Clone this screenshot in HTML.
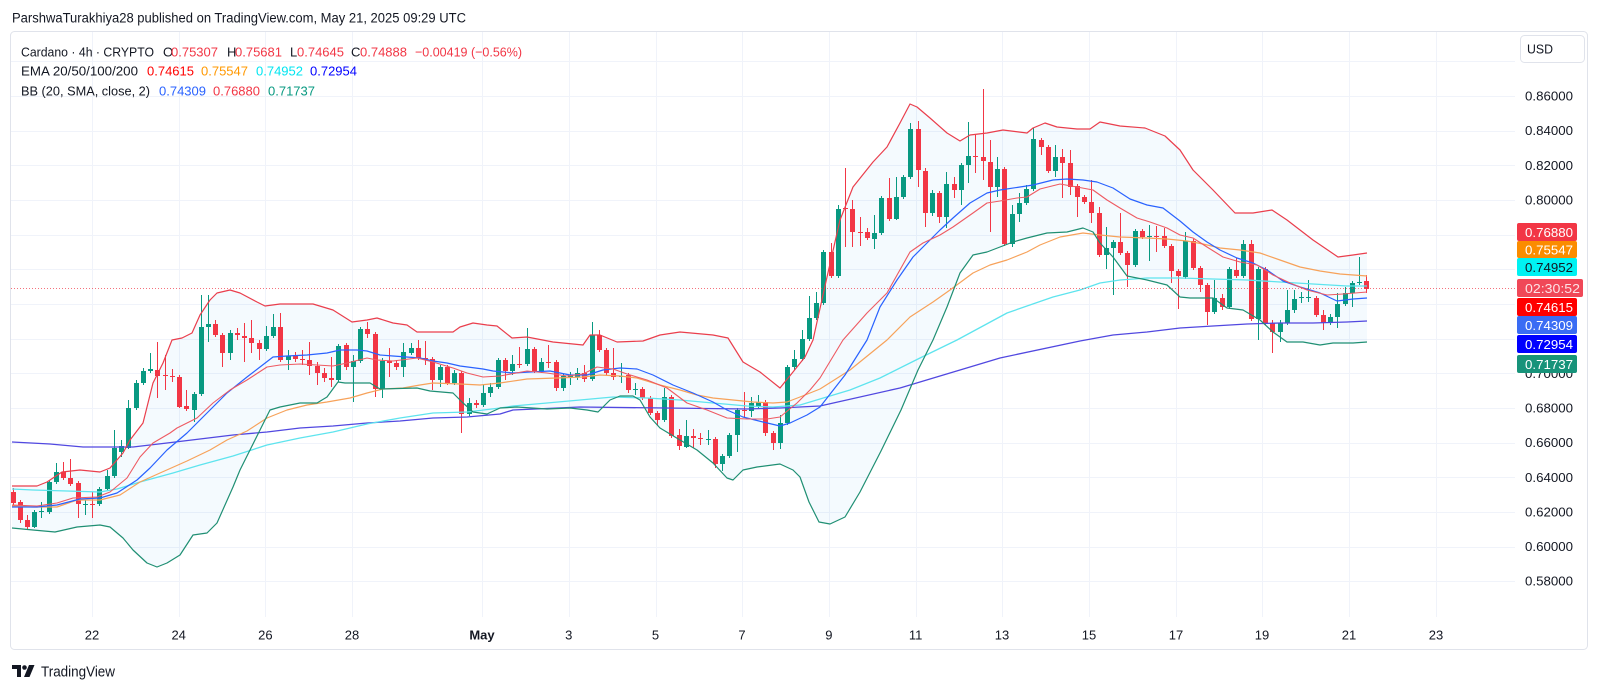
<!DOCTYPE html>
<html><head><meta charset="utf-8"><style>
html,body{margin:0;padding:0;background:#fff;}
svg{display:block;}
text{font-family:"Liberation Sans",Arial,sans-serif;}
</style></head><body>
<svg id="s" width="1600" height="685" viewBox="0 0 1600 685" xmlns="http://www.w3.org/2000/svg">
<rect width="1600" height="685" fill="#fff"/>
<defs><clipPath id="cp"><rect x="11" y="32" width="1504" height="585"/></clipPath></defs>
<g id="grid" stroke="#f0f3fa" stroke-width="1" shape-rendering="crispEdges"></g>
<g id="plot" clip-path="url(#cp)"></g>
<rect x="10.5" y="31.5" width="1577" height="618" rx="4" fill="none" stroke="#e0e3eb"/>
<text x="12" y="18" font-size="13.5" fill="#131722" dominant-baseline="central" textLength="454" lengthAdjust="spacingAndGlyphs">ParshwaTurakhiya28 published on TradingView.com, May 21, 2025 09:29 UTC</text>
<g font-size="13" dominant-baseline="central">
<text x="21" y="52" fill="#131722" textLength="133" lengthAdjust="spacingAndGlyphs">Cardano · 4h · CRYPTO</text>
<text x="163" y="52" fill="#131722">O</text><text x="171" y="52" fill="#f23645" textLength="47" lengthAdjust="spacingAndGlyphs">0.75307</text>
<text x="227" y="52" fill="#131722">H</text><text x="235" y="52" fill="#f23645" textLength="47" lengthAdjust="spacingAndGlyphs">0.75681</text>
<text x="290" y="52" fill="#131722">L</text><text x="297" y="52" fill="#f23645" textLength="47" lengthAdjust="spacingAndGlyphs">0.74645</text>
<text x="351" y="52" fill="#131722">C</text><text x="360" y="52" fill="#f23645" textLength="47" lengthAdjust="spacingAndGlyphs">0.74888</text>
<text x="415" y="52" fill="#f23645" textLength="107" lengthAdjust="spacingAndGlyphs">−0.00419 (−0.56%)</text>
<text x="21" y="71" fill="#131722" textLength="117" lengthAdjust="spacingAndGlyphs">EMA 20/50/100/200</text>
<text x="147" y="71" fill="#ff0000" textLength="47" lengthAdjust="spacingAndGlyphs">0.74615</text>
<text x="201" y="71" fill="#ff9800" textLength="47" lengthAdjust="spacingAndGlyphs">0.75547</text>
<text x="256" y="71" fill="#00e5f0" textLength="47" lengthAdjust="spacingAndGlyphs">0.74952</text>
<text x="310" y="71" fill="#0000ff" textLength="47" lengthAdjust="spacingAndGlyphs">0.72954</text>
<text x="21" y="91" fill="#131722" textLength="129" lengthAdjust="spacingAndGlyphs">BB (20, SMA, close, 2)</text>
<text x="159" y="91" fill="#2962ff" textLength="47" lengthAdjust="spacingAndGlyphs">0.74309</text>
<text x="213" y="91" fill="#f23645" textLength="47" lengthAdjust="spacingAndGlyphs">0.76880</text>
<text x="268" y="91" fill="#089981" textLength="47" lengthAdjust="spacingAndGlyphs">0.71737</text>
</g>
<rect x="1520.5" y="35.5" width="64" height="27" rx="4" fill="#fff" stroke="#e0e3eb"/>
<text x="1527" y="49" font-size="13" fill="#131722" dominant-baseline="central" textLength="26" lengthAdjust="spacingAndGlyphs">USD</text>
<g id="paxis" font-size="13" fill="#131722" dominant-baseline="central"></g>
<g id="plabels" font-size="13" dominant-baseline="central"></g>
<g id="taxis" font-size="13" fill="#131722" dominant-baseline="central" text-anchor="middle"></g>
<g fill="#131722">
<path d="M12 665 h9 v12 h-4 v-8 h-5 z"/>
<circle cx="24.5" cy="667.5" r="2.3"/>
<path d="M29 665 h5.5 l-5 12 h-5.5 z"/>
</g>
<text x="41" y="672" font-size="15" fill="#131722" dominant-baseline="central" textLength="74" lengthAdjust="spacingAndGlyphs">TradingView</text>
</svg>
<script>
(function(){
const NS='http://www.w3.org/2000/svg';
function el(t,a,p){const e=document.createElementNS(NS,t);for(const k in a)e.setAttribute(k,a[k]);p.appendChild(e);return e;}
const grid=document.getElementById('grid'),plot=document.getElementById('plot');
for(let k=0;k<16;k++){const y=Math.round(61.3+k*34.66)+0.5;el('line',{x1:11,x2:1515,y1:y,y2:y},grid);}
const dx=[[92,'22'],[178.7,'24'],[265.4,'26'],[352,'28'],[482,'May'],[568.8,'3'],[655.5,'5'],[742,'7'],[828.9,'9'],[915.6,'11'],[1002,'13'],[1089,'15'],[1176,'17'],[1262,'19'],[1349,'21'],[1436,'23']];
const ta=document.getElementById('taxis');
dx.forEach(d=>{const x=Math.round(d[0])+0.5;el('line',{x1:x,x2:x,y1:32,y2:617},grid);const t=el('text',{x:d[0],y:635},ta);if(d[1]==='May')t.setAttribute('font-weight','bold');t.textContent=d[1];});
const pa=document.getElementById('paxis');
const prices=['0.86000','0.84000','0.82000','0.80000','','','','','0.70000','0.68000','0.66000','0.64000','0.62000','0.60000','0.58000'];
prices.forEach((p,k)=>{if(!p)return;const t=el('text',{x:1525,y:96+k*34.66,textLength:48,lengthAdjust:'spacingAndGlyphs'},pa);t.textContent=p;});
const pl=document.getElementById('plabels');
const labs=[[223,18,'#f23645','#fff','0.76880',60],[241,17,'#fb8c00','#fff','0.75547',60],[258,18,'#00f2f2','#131722','0.74952',60],[279,18,'#f04858','#fde2e5','02:30:52',66],[298,18,'#ff0000','#fff','0.74615',60],[316,18,'#3a6cf4','#fff','0.74309',60],[335,18,'#0000ff','#fff','0.72954',60],[355,18,'#17937a','#fff','0.71737',60]];
labs.forEach(l=>{el('rect',{x:1517,y:l[0],width:l[5],height:l[1],rx:2,fill:l[2]},pl);const t=el('text',{x:1525,y:l[0]+l[1]/2+0.5,fill:l[3],textLength:l[5]===66?55:48,lengthAdjust:'spacingAndGlyphs'},pl);t.textContent=l[4];});
const U=[[12,486],[37,486],[47,482],[62,472],[80,470],[100,472],[110,468],[123,453],[130,440],[143,423],[153,383],[163,363],[172,340],[182,338],[192,333],[200,315],[210,300],[217,293],[230,290],[240,293],[257,302],[265,306],[280,304],[313,304],[333,310],[352,322],[367,320],[377,318],[393,323],[407,325],[417,332],[453,332],[460,327],[473,323],[487,325],[497,326],[512,338],[527,337],[553,342],[583,345],[590,335],[600,335],[617,342],[643,341],[660,335],[680,332],[713,335],[728,338],[743,362],[760,372],[780,388],[793,372],[805,357],[813,340],[827,277],[840,220],[853,187],[873,162],[887,147],[900,123],[910,104],[917,107],[930,118],[947,133],[960,141],[970,135],[987,133],[1003,130],[1027,133],[1033,128],[1045,123],[1057,127],[1077,129],[1090,129],[1100,122],[1120,126],[1145,128],[1165,136],[1180,150],[1193,170],[1213,190],[1235,213],[1253,213],[1272,210],[1287,220],[1313,240],[1338,257],[1353,255],[1367,253]];
const L=[[12,528],[33,530],[55,532],[77,527],[100,525],[110,527],[123,538],[133,550],[147,563],[157,567],[167,563],[180,555],[193,535],[207,533],[217,523],[233,487],[240,470],[250,450],[260,430],[270,410],[280,407],[300,403],[317,403],[327,397],[338,382],[345,383],[370,383],[380,389],[417,388],[430,391],[453,393],[462,402],[473,412],[487,414],[500,408],[517,407],[547,409],[570,408],[587,410],[598,412],[610,400],[620,396],[633,396],[640,400],[650,417],[660,428],[680,440],[697,450],[713,463],[727,478],[733,480],[743,470],[757,467],[780,464],[793,470],[800,477],[809,502],[819,522],[830,524],[845,517],[860,492],[881,451],[901,410],[918,370],[933,340],[947,307],[960,273],[973,255],[987,252],[1000,247],[1013,242],[1027,238],[1047,233],[1067,232],[1083,228],[1093,232],[1100,243],[1113,257],[1127,276],[1147,280],[1167,285],[1180,297],[1190,298],[1213,298],[1227,308],[1243,310],[1260,320],[1273,332],[1287,342],[1303,342],[1320,345],[1333,343],[1353,343],[1367,342]];
const B=[[12,507],[37,507],[57,505],[80,499],[100,498],[117,493],[137,480],[150,468],[167,450],[187,433],[203,417],[227,393],[247,377],[260,367],[273,357],[287,356],[307,355],[327,353],[340,350],[357,350],[367,351],[380,355],[393,356],[420,358],[433,361],[447,363],[460,366],[483,369],[493,371],[513,373],[530,372],[550,371],[570,375],[587,375],[603,370],[620,368],[637,369],[653,375],[673,385],[693,393],[713,402],[727,410],[743,417],[763,422],[780,426],[790,423],[807,415],[820,407],[845,375],[867,340],[880,307],[897,280],[913,257],[927,243],[940,230],[953,218],[970,203],[987,193],[1000,190],[1020,187],[1033,185],[1053,180],[1067,179],[1083,180],[1097,182],[1113,188],[1130,199],[1147,205],[1163,208],[1180,221],[1193,232],[1207,242],[1220,250],[1237,258],[1253,263],[1267,270],[1283,281],[1300,287],[1320,293],[1337,301],[1353,299],[1367,298]];
const E20=[[12,505],[37,506],[57,503],[73,498],[97,497],[110,492],[127,478],[140,457],[153,443],[170,433],[177,428],[197,418],[213,403],[230,390],[247,380],[267,367],[280,365],[300,364],[317,365],[333,366],[347,363],[367,358],[377,360],[393,361],[417,358],[433,362],[453,368],[467,373],[483,377],[500,376],[527,371],[547,373],[567,376],[583,374],[597,367],[613,369],[627,374],[647,380],[667,388],[687,403],[707,410],[727,418],[747,419],[767,419],[780,417],[797,403],[810,390],[820,378],[843,340],[867,313],[887,293],[910,252],[923,243],[940,235],[953,227],[973,213],[987,203],[1000,201],[1017,198],[1027,197],[1040,189],[1060,184],[1077,187],[1093,190],[1107,200],[1120,208],[1137,218],[1150,222],[1167,228],[1180,235],[1193,238],[1207,247],[1223,257],[1240,262],[1257,265],[1273,275],[1290,283],[1307,290],[1327,295],[1343,294],[1367,292]];
const E50=[[12,506],[33,507],[57,507],[77,500],[100,500],[120,495],[140,482],[160,473],[187,461],[210,450],[227,440],[247,431],[267,418],[287,410],[307,405],[327,402],[350,398],[367,393],[383,389],[403,388],[420,385],[433,383],[460,384],[480,385],[500,383],[527,379],[557,378],[583,377],[600,375],[620,376],[637,378],[660,385],[680,390],[697,395],[713,398],[733,400],[753,402],[773,403],[787,402],[800,397],[820,389],[850,370],[887,340],[910,317],[933,302],[950,290],[973,273],[990,265],[1007,260],[1027,252],[1040,245],[1060,237],[1083,233],[1100,235],[1120,237],[1147,238],[1167,239],[1187,241],[1203,244],[1220,248],[1240,250],[1260,253],[1280,260],[1300,267],[1320,271],[1340,274],[1367,276]];
const E100=[[12,489],[33,490],[67,491],[100,492],[117,489],[140,482],[173,473],[200,465],[233,456],[267,445],[300,438],[333,432],[367,424],[400,418],[433,413],[467,412],[500,408],[513,406],[547,403],[580,400],[613,397],[647,398],[680,400],[713,403],[747,406],[773,407],[800,405],[820,399],[850,390],[880,378],[920,358],[957,340],[1007,313],[1053,297],[1080,290],[1100,283],[1120,280],[1147,278],[1180,278],[1213,279],[1247,280],[1280,282],[1313,284],[1347,286],[1367,286]];
const E200=[[12,442],[50,444],[83,447],[117,447],[133,447],[167,443],[200,439],[233,435],[267,432],[300,428],[333,426],[367,423],[400,421],[433,418],[467,417],[500,414],[513,410],[580,407],[747,409],[780,408],[820,406],[900,388],[1000,358],[1080,341],[1113,335],[1147,332],[1180,328],[1213,326],[1247,324],[1280,323],[1313,323],[1347,322],[1367,321]];
function pts(a){return a.map(p=>p[0]+','+p[1]).join(' ');}
el('polygon',{points:pts(U.concat(L.slice().reverse())),fill:'rgba(33,150,243,0.05)',stroke:'none'},plot);
const C=[[492,488,506,503],[502,500,523,520],[520,515,529,527],[527,510,528,512],[512,502,518,511],[512,480,514,482],[482,463,484,472],[472,462,480,478],[478,459,486,484],[483,481,518,504],[505,500,515,504],[504,492,518,505],[504,487,506,489],[489,470,490,476],[476,430,478,448],[452,440,457,446],[448,400,449,408],[408,380,410,383],[383,368,385,371],[371,353,373,369],[370,342,398,376],[375,355,390,376],[376,369,382,377],[377,375,408,407],[406,390,411,409],[410,392,422,394],[394,295,396,327],[327,295,342,324],[324,320,337,335],[335,333,367,353],[353,330,360,333],[333,328,340,335],[336,323,362,338],[338,320,353,343],[343,340,360,349],[349,326,351,336],[336,314,338,327],[327,313,362,360],[360,350,370,356],[356,352,362,359],[359,350,365,360],[360,342,375,366],[366,362,385,373],[373,368,382,378],[378,357,387,380],[380,344,382,346],[345,343,370,367],[367,355,402,361],[361,327,363,329],[329,322,338,334],[334,332,397,389],[389,358,398,361],[361,348,377,363],[363,360,370,367],[367,343,377,352],[353,343,355,348],[348,340,360,358],[358,341,365,359],[359,357,390,380],[380,365,387,367],[367,365,385,383],[383,370,385,373],[373,371,433,414],[414,398,416,403],[403,400,408,405],[405,385,407,393],[393,383,397,387],[387,358,389,360],[360,358,380,371],[371,355,375,364],[364,347,368,365],[364,328,366,349],[349,347,373,371],[371,358,373,362],[362,345,368,363],[362,360,391,388],[388,374,391,376],[377,372,385,375],[377,368,380,373],[373,365,382,379],[379,322,381,335],[335,330,352,350],[350,348,375,373],[373,348,380,377],[377,363,383,376],[375,373,393,390],[390,383,395,389],[389,387,400,398],[398,396,415,413],[413,411,425,420],[420,388,422,397],[397,395,438,436],[435,429,450,446],[447,420,448,436],[436,429,448,438],[438,433,445,439],[440,430,445,439],[439,437,468,464],[464,454,471,456],[456,433,458,435],[435,408,452,410],[410,392,418,411],[411,397,417,403],[407,395,408,402],[402,400,436,433],[433,431,450,443],[443,415,449,423],[423,365,425,367],[367,350,370,359],[359,330,361,339],[339,296,341,318],[318,292,320,303],[303,250,305,252],[252,243,278,276],[276,205,278,209],[208,168,247,209],[209,200,247,232],[232,217,246,233],[232,228,240,238],[239,215,249,233],[233,196,235,198],[198,178,221,219],[219,177,220,197],[197,175,199,177],[177,123,179,129],[129,121,187,170],[171,168,227,213],[213,190,216,193],[193,191,223,217],[217,172,228,184],[184,177,198,190],[190,163,205,165],[165,122,183,156],[156,135,173,157],[157,89,180,161],[162,140,232,187],[187,157,197,169],[169,167,246,244],[244,205,247,214],[214,193,222,203],[203,185,205,189],[189,128,191,139],[140,138,155,147],[147,145,173,171],[171,145,177,157],[157,149,198,163],[163,150,195,187],[186,184,217,197],[197,195,204,202],[202,180,223,213],[213,207,257,255],[255,227,269,248],[248,240,295,242],[242,213,255,253],[253,251,287,265],[265,229,267,231],[231,229,239,237],[237,225,261,236],[236,226,252,237],[236,228,248,246],[246,244,283,271],[271,269,309,276],[277,232,279,241],[241,239,270,268],[268,266,292,285],[285,283,325,312],[312,280,314,298],[298,294,310,307],[307,267,309,269],[270,258,278,276],[276,240,278,244],[244,240,321,319],[319,267,340,269],[269,267,325,323],[323,320,353,332],[332,320,342,323],[323,290,325,310],[310,290,313,299],[298,292,303,297],[298,280,302,297],[298,296,317,315],[315,310,330,323],[323,314,325,317],[317,293,328,304],[304,287,306,293],[293,281,307,283],[283,257,285,282],[281,275,293,289]];
let gw='',gb='',rw='',rb='';
C.forEach((c,i)=>{const xc=Math.round(12.5+i*7.24);const o=c[0],h=c[1],l=c[2],cl=c[3];const up=cl<o;const top=Math.min(o,cl),bot=Math.max(o,cl);const bh=Math.max(1,bot-top);
const w='M'+(xc+0.5)+' '+h+'V'+l;const b='M'+(xc-2)+' '+top+'h5v'+bh+'h-5z';
if(up){gw+=w;gb+=b;}else{rw+=w;rb+=b;}});
el('path',{d:gw,stroke:'#089981',fill:'none','stroke-width':1},plot);
el('path',{d:rw,stroke:'#f23645',fill:'none','stroke-width':1},plot);
el('path',{d:gb,fill:'#089981',stroke:'none'},plot);
el('path',{d:rb,fill:'#f23645',stroke:'none'},plot);
function line(a,col,w){el('polyline',{points:pts(a),fill:'none',stroke:col,'stroke-width':w,'stroke-linejoin':'round'},plot);}
line(E200,'#5148e0',1.3);
line(E100,'#5ee4ee',1.3);
line(E50,'#f7a25a',1.2);
line(B,'#2962ff',1.2);
line(E20,'#ee5a62',1.1);
line(U,'#ea3e4c',1.2);
line(L,'#1f8f73',1.2);
el('line',{x1:11,x2:1515,y1:288.5,y2:288.5,stroke:'#f23645','stroke-width':1,'stroke-dasharray':'1 2',opacity:0.7},plot);
})();
</script>
</body></html>
